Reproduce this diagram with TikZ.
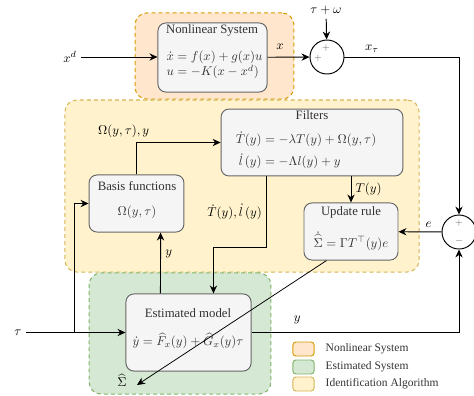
\documentclass[tikz,border=0pt]{standalone}
\usepackage{amsmath}
\usepackage{fontspec}
\setmainfont{Liberation Serif}
\usetikzlibrary{arrows.meta,positioning,calc}
\definecolor{colBoite}{HTML}{F5F5F5}
\definecolor{colTrait}{HTML}{666666}
\definecolor{colTexte}{HTML}{333333}
\definecolor{colOrFond}{HTML}{FFE6CC}
\definecolor{colOrTrait}{HTML}{D79B00}
\definecolor{colJaFond}{HTML}{FFF2CC}
\definecolor{colJaTrait}{HTML}{D6B656}
\definecolor{colVeFond}{HTML}{D5E8D4}
\definecolor{colVeTrait}{HTML}{82B366}
\newcommand{\upx}{0.0275cm}

\begin{document}
\begin{tikzpicture}[x=\upx, y=-\upx,
    grp/.style={rectangle, rounded corners=0.33cm, thick, inner sep=0pt,
      dash pattern=on 3pt off 2.5pt},
    blk/.style={rectangle, rounded corners=0.22cm, draw=colTrait, fill=colBoite,
      line width=0.75pt, inner sep=0pt},
    ttl/.style={text=colTexte, inner sep=1pt},
    eq/.style={text=colTexte, inner sep=1pt},
    somme/.style={circle, draw, line width=0.75pt, minimum size=0.935cm, inner sep=0pt},
    sgn/.style={font=\scriptsize, text=colTrait, inner sep=0pt},
    lgd/.style={rectangle, rounded corners=0.08cm, line width=0.75pt, inner sep=0pt,
      minimum width=0.58cm, minimum height=0.385cm},
    lgt/.style={font=\small, text=colTexte, inner sep=0pt, anchor=west},
    fl/.style={-{Stealth[length=2.2mm, width=2mm]}, line width=0.75pt}]
    \useasboundingbox (0,0) rectangle (474,395);
    % groupes
    \node[grp, draw=colOrTrait, fill=colOrFond, minimum width=4.37cm,
      minimum height=2.37cm] (gNS) at (214.5,56) {};
    \node[grp, draw=colJaTrait, fill=colJaFond, minimum width=9.74cm,
      minimum height=4.73cm] (gID) at (242,186) {};
    \node[grp, draw=colVeTrait, fill=colVeFond, minimum width=5.0cm,
      minimum height=3.33cm] (gEst) at (180,333.5) {};
    % blocs
    \node[blk, minimum width=3.0cm, minimum height=1.9cm] (ns) at (212.5,57.5) {};
    \node[ttl] (nsT) at (212,30) {Nonlinear System};
    \node[eq, anchor=west, align=left] (nsE) at (165,65)
      {$\dot{x} = f(x)+g(x)u$\\ $u = -K(x-x^d)$};
    \node[blk, minimum width=5.0cm, minimum height=1.84cm] (filt) at (312,142.5) {};
    \node[ttl] (filtT) at (312,115) {Filters};
    \node[eq] (filtE) at (306,151)
      {$\begin{aligned}\dot{T}(y) &= -\lambda T(y)+\Omega(y,\tau)\\
        \dot{l}\,(y) &= -\Lambda l(y)+y\end{aligned}$};
    \node[blk, minimum width=2.61cm, minimum height=1.57cm] (basis) at (136.5,203.5) {};
    \node[ttl] (basisT) at (137,186) {Basis functions};
    \node[eq] (basisE) at (137,212) {$\Omega(y,\tau)$};
    \node[blk, minimum width=2.585cm, minimum height=1.57cm] (upd) at (351,231.5) {};
    \node[ttl] (updT) at (351,212) {Update rule};
    \node[eq] (updE) at (351,241) {$\dot{\widehat{\Sigma}} = \Gamma T^{\top}(y)e$};
    \node[blk, minimum width=3.44cm, minimum height=2.12cm] (est) at (188.5,332.5) {};
    \node[ttl] (estT) at (188,313) {Estimated model};
    \node[eq] (estE) at (188,341)
      {$\dot{y} = \widehat{F}_x(y)+\widehat{G}_x(y)\tau$};
    % sommateurs
    \node[somme] (s1) at (327,57) {};
    \node[sgn] (s1a) at (326,48) {$+$};
    \node[sgn] (s1b) at (318,58) {$+$};
    \node[somme] (s2) at (459,232) {};
    \node[sgn] (s2a) at (459,223) {$+$};
    \node[sgn] (s2b) at (459,241) {$-$};
    % entrees
    \node (xd) at (70,57) {$x^d$};
    \node (tw) at (326,10) {$\tau+\omega$};
    \node (tau) at (18,332.5) {$\tau$};
    \node (sig) at (122,380) {$\widehat{\Sigma}$};
    \coordinate (br) at (74,332.5);
    \coordinate (sg) at (137,385);
    % liaisons
    \draw[fl] (xd) -- (xd -| ns.west);
    \draw[fl] (ns) -- node[above=2pt, pos=0.3]{$x$} (s1);
    \draw[fl] (tw) -- (s1);
    \draw[fl] (s1) -| node[above, pos=0.12]{$x_\tau$} (s2);
    \draw[fl] (s2) -- node[above, pos=0.3]{$e$} (upd);
    \draw[fl] (est) -| node[above=3pt, pos=0.11]{$y$} (s2);
    \draw[fl] (tau) -- (tau -| est.west);
    \draw[fl] (br) |- (basis.west);
    \draw[fl] (basis) |- node[pos=0.5, above, xshift=-10pt]{$\Omega(y,\tau), y$} (filt);
    \draw[fl] (filt.south -| upd.north) -- node[right]{$T(y)$} (upd.north);
    \draw[fl] ($(filt.south west)+(46,0)$) -- node[midway, left]{$\dot{T}(y), \dot{l}\,(y)$}
      ++(0,71) -| ($(est.north west)+(88,0)$);
    \draw[fl] ($(est.north west)+(35,0)$) -- node[right, pos=0.65]{$y$}
      ($(basis.south west)+(72,0)$);
    \draw[fl, line width=0.6pt] ($(upd.south west)+(23,0)$) -- (sg);
    % legende
    \node[lgd, draw=colOrTrait, fill=colOrFond] (lg1) at (303.5,349) {};
    \node[lgd, draw=colVeTrait, fill=colVeFond] (lg2) at (303.5,367) {};
    \node[lgd, draw=colJaTrait, fill=colJaFond] (lg3) at (303.5,384) {};
    \node[lgt, right=0.3cm of lg1] (lt1) {Nonlinear System};
    \node[lgt, right=0.3cm of lg2] (lt2) {Estimated System};
    \node[lgt, right=0.3cm of lg3] (lt3) {Identification Algorithm};
  \end{tikzpicture}
\end{document}
